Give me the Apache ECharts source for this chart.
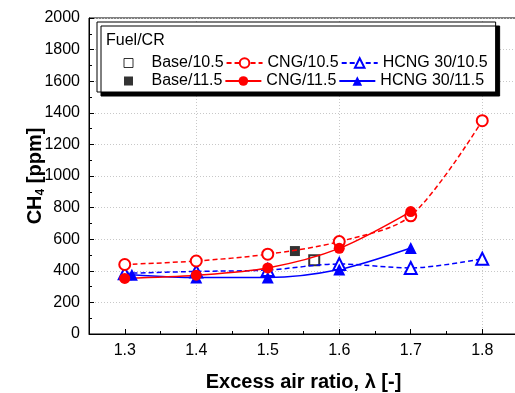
<!DOCTYPE html>
<html>
<head>
<meta charset="utf-8">
<script src="https://cdn.jsdelivr.net/npm/echarts@6/dist/echarts.min.js"></script>
<style>
  html, body { margin: 0; padding: 0; background: #fff; }
  #chart { width: 515px; height: 393px; }
</style>
</head>
<body>
<div id="chart"></div>
<script>
// values
const lam = [1.3, 1.4, 1.5, 1.6, 1.7, 1.8];
const lamHcng115 = [1.31, 1.4, 1.5, 1.6, 1.7];
const lamBase105 = [1.565];
const lamBase115 = [1.538];

const base105 = [467];
const base115 = [525];
const cng105 = [440, 462, 505, 585, 748, 1350];
const cng115 = [352, 372, 418, 542, 775];
const hcng105 = [384, 396, 405, 443, 418, 476];
const hcng115 = [375, 357, 357, 408, 544];

const xLabels = [1.3, 1.4, 1.5, 1.6, 1.7, 1.8];
const xMinor = [1.35, 1.45, 1.55, 1.65, 1.75];

const FONT = "'Liberation Sans', Arial, sans-serif";
const RED = '#ff0000';
const BLUE = '#0000ff';
// small square centred in a 36x12 box (moveTo points widen the box)
const SQUARE = 'path://M0,0M36,12M13.5,1.5L22.5,1.5L22.5,10.5L13.5,10.5Z';

function pair(xs, ys) {
  return ys.map((v, i) => [xs[i], v]);
}

let mychart = echarts.init(document.getElementById('chart'));
let option = {
  animation: false,
  textStyle: { fontFamily: FONT },
  title: {
    text: 'Fuel/CR',
    left: 106,
    top: 33,
    padding: 0,
    textStyle: { fontSize: 16, fontWeight: 'normal', color: '#000', fontFamily: FONT }
  },
  legend: {
    left: 97,
    top: 22,
    width: 386,
    padding: [33, 8, 3, 13],
    itemWidth: 36,
    itemHeight: 12,
    itemGap: 2,
    backgroundColor: '#fff',
    borderColor: '#000',
    borderWidth: 1,
    shadowColor: '#000',
    shadowBlur: 0,
    shadowOffsetX: 4,
    shadowOffsetY: 4,
    textStyle: { fontSize: 16, color: '#000', padding: [0, 3, 0, 0], fontFamily: FONT },
    data: [
      { name: 'Base/10.5', icon: SQUARE, itemStyle: { color: '#fff', borderColor: '#000', borderWidth: 1 } },
      'CNG/10.5',
      'HCNG 30/10.5',
      { name: 'Base/11.5', icon: SQUARE, itemStyle: { color: '#000' } },
      'CNG/11.5',
      'HCNG 30/11.5'
    ]
  },
  grid: {
    left: 89,
    right: -3,
    top: 18,
    bottom: 59,
    outerBoundsMode: 'none',
    show: true,
    borderColor: '#000',
    borderWidth: 1
  },
  xAxis: [
    {
      type: 'value',
      min: 1.25,
      max: 1.85,
      interval: 0.05,
      name: 'Excess air ratio, λ [-]',
      nameLocation: 'middle',
      nameGap: 38,
      nameMoveOverlap: false,
      nameTextStyle: { fontSize: 20, fontWeight: 'bold', color: '#000', fontFamily: FONT },
      axisLine: { lineStyle: { color: '#000', width: 1 } },
      axisTick: { inside: true, length: 5, customValues: xLabels, lineStyle: { color: '#000' } },
      axisLabel: { customValues: xLabels, fontSize: 16, color: '#000', margin: 9, fontFamily: FONT },
      splitLine: {
        show: true,
        lineStyle: { color: ['transparent', '#c8c8c8'], type: [1, 2], width: 1 }
      }
    },
    {
      type: 'value',
      min: 1.25,
      max: 1.85,
      position: 'bottom',
      axisLine: { show: false },
      axisLabel: { show: false },
      splitLine: { show: false },
      axisTick: { show: true, inside: true, length: 3, customValues: xMinor, lineStyle: { color: '#000' } }
    }
  ],
  yAxis: {
    type: 'value',
    min: 0,
    max: 2000,
    interval: 200,
    name: '{a|CH}{s|4}{a| [ppm]}',
    nameLocation: 'middle',
    nameGap: 42,
    nameMoveOverlap: false,
    nameTextStyle: {
      fontSize: 20,
      fontWeight: 'bold',
      color: '#000',
      rich: {
        a: { fontSize: 20, fontWeight: 'bold', color: '#000', fontFamily: FONT, lineHeight: 24 },
        s: { fontSize: 12, fontWeight: 'bold', color: '#000', fontFamily: FONT, lineHeight: 24, verticalAlign: 'bottom' }
      }
    },
    axisLine: { show: true, lineStyle: { color: '#000', width: 1 } },
    axisTick: { inside: true, length: 5, lineStyle: { color: '#000' } },
    minorTick: { show: true, splitNumber: 2, length: 3, lineStyle: { color: '#000' } },
    axisLabel: {
      fontSize: 16, color: '#000', margin: 9, fontFamily: FONT,
      formatter: function (v) { return String(v); }
    },
    splitLine: { show: true, lineStyle: { color: '#c8c8c8', type: [1, 2], width: 1 } }
  },
  series: [
    {
      name: 'HCNG 30/10.5',
      type: 'line',
      data: pair(lam, hcng105),
      smooth: 0.3,
      symbol: 'emptyTriangle',
      symbolSize: 12,
      lineStyle: { color: BLUE, width: 1.5, type: [5, 3] },
      itemStyle: { color: BLUE, borderWidth: 1 }
    },
    {
      name: 'CNG/10.5',
      type: 'line',
      data: pair(lam, cng105),
      smooth: 0.3,
      symbol: 'emptyCircle',
      symbolSize: 11,
      lineStyle: { color: RED, width: 1.5, type: [5, 3] },
      itemStyle: { color: RED, borderWidth: 1 }
    },
    {
      name: 'HCNG 30/11.5',
      type: 'line',
      data: pair(lamHcng115, hcng115),
      smooth: 0.3,
      symbol: 'triangle',
      symbolSize: 12,
      lineStyle: { color: BLUE, width: 1.5 },
      itemStyle: { color: BLUE }
    },
    {
      name: 'CNG/11.5',
      type: 'line',
      data: pair(lam, cng115),
      smooth: 0.3,
      symbol: 'circle',
      symbolSize: 11,
      lineStyle: { color: RED, width: 1.5 },
      itemStyle: { color: RED }
    },
    {
      name: 'Base/10.5',
      type: 'scatter',
      data: pair(lamBase105, base105),
      symbol: 'emptyRect',
      symbolSize: 10,
      itemStyle: { color: '#000', borderColor: '#000', borderWidth: 1 }
    },
    {
      name: 'Base/11.5',
      type: 'scatter',
      data: pair(lamBase115, base115),
      symbol: 'rect',
      symbolSize: 10,
      itemStyle: { color: '#000' }
    }
  ]
};

mychart.setOption(option);
window.addEventListener('resize', function () {
  mychart.resize();
});
</script>
</body>
</html>
